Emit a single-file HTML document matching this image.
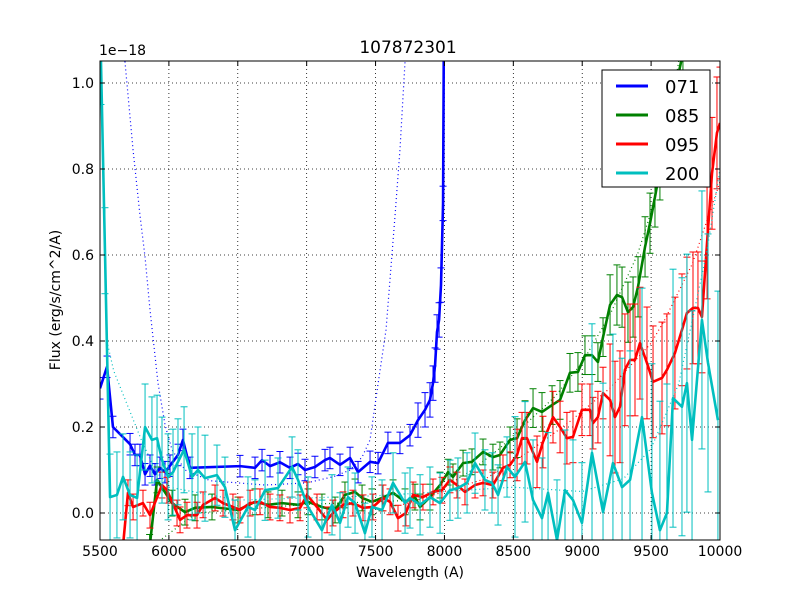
<!DOCTYPE html>
<html><head><meta charset="utf-8"><style>
html,body{margin:0;padding:0;background:#fff;overflow:hidden;width:800px;height:600px;}
svg{display:block;}
svg text{font-family:"DejaVu Sans","Liberation Sans",sans-serif;}
</style></head><body>
<svg id="chart" width="800" height="600" xmlns="http://www.w3.org/2000/svg">
<rect width="800" height="600" fill="#fff"/>
<defs><clipPath id="clip"><rect x="100" y="61" width="620" height="479"/></clipPath></defs>
<g id="grid"></g>
<g id="marks" clip-path="url(#clip)"></g>
<rect x="100" y="61" width="620" height="479" fill="none" stroke="#000" stroke-width="1"/>
<g id="ticks"></g>
<text x="408" y="53" font-size="17" text-anchor="middle">107872301</text>
<text x="99" y="55" font-size="14">1e−18</text>
<text x="410" y="577" font-size="14" text-anchor="middle">Wavelength (A)</text>
<text transform="translate(60,300) rotate(-90)" font-size="14" text-anchor="middle">Flux (erg/s/cm^2/A)</text>
<g>
<rect x="602" y="70" width="108" height="117" fill="#fff" stroke="#000" stroke-width="1"/>
<g><line x1="616" y1="86" x2="648" y2="86" stroke="#0000ff" stroke-width="3"/><text x="665" y="93" font-size="18">071</text></g>
<g><line x1="616" y1="115" x2="648" y2="115" stroke="#008000" stroke-width="3"/><text x="665" y="122" font-size="18">085</text></g>
<g><line x1="616" y1="144" x2="648" y2="144" stroke="#ff0000" stroke-width="3"/><text x="665" y="151" font-size="18">095</text></g>
<g><line x1="616" y1="173" x2="648" y2="173" stroke="#00bfbf" stroke-width="3"/><text x="665" y="180" font-size="18">200</text></g>
</g>
</svg>
<script>
const xTicks=[5500,6000,6500,7000,7500,8000,8500,9000,9500,10000];
const yTicks=[0.0,0.2,0.4,0.6,0.8,1.0];
const yTickLabels=["0.0","0.2","0.4","0.6","0.8","1.0"];
const blueData=[[5500,0.29],[5551,0.34],[5594,0.20],[5718,0.16],[5754,0.135],[5790,0.135],[5827,0.09],[5863,0.11],[5899,0.09],[5935,0.105],[5972,0.095],[6008,0.11],[6066,0.135],[6102,0.17],[6153,0.105],[6516,0.109],[6625,0.105],[6676,0.123],[6734,0.109],[6806,0.118],[6879,0.105],[6937,0.114],[6988,0.100],[7060,0.107],[7133,0.123],[7169,0.128],[7242,0.112],[7315,0.128],[7373,0.095],[7460,0.119],[7518,0.116],[7590,0.163],[7677,0.163],[7750,0.181],[7808,0.216],[7859,0.240],[7895,0.263],[7917,0.302],[7932,0.344],[7946,0.421],[7961,0.449],[7975,0.53],[7990,0.72],[7997,1.2]];
const greenData=[[5860,-0.08],[5914,0.077],[6023,0.023],[6117,0.002],[6190,0.012],[6313,0.014],[6502,0.007],[6625,0.026],[6719,0.019],[6821,0.023],[6937,0.019],[7010,0.026],[7111,0.014],[7206,0.007],[7278,0.042],[7351,0.049],[7402,0.035],[7474,0.026],[7547,0.035],[7627,0.047],[7714,0.026],[7786,0.037],[7823,0.014],[7895,0.037],[7968,0.065],[8026,0.095],[8062,0.084],[8135,0.116],[8200,0.119],[8280,0.142],[8352,0.130],[8403,0.135],[8476,0.170],[8527,0.174],[8585,0.216],[8643,0.244],[8708,0.235],[8781,0.251],[8839,0.263],[8911,0.326],[8969,0.328],[9020,0.367],[9071,0.367],[9114,0.351],[9151,0.409],[9202,0.484],[9252,0.507],[9289,0.502],[9332,0.467],[9369,0.479],[9405,0.526],[9456,0.619],[9492,0.674],[9528,0.735],[9564,0.798],[9615,0.884],[9659,0.960],[9731,1.07],[9800,1.2]];
const redData=[[5660,-0.1],[5703,0.047],[5740,0.014],[5812,0.023],[5863,-0.005],[5950,0.065],[5986,0.053],[6059,0.0],[6081,-0.016],[6131,-0.005],[6204,-0.005],[6248,0.019],[6335,0.035],[6393,0.023],[6465,0.014],[6516,0.007],[6589,0.023],[6661,0.026],[6734,0.014],[6806,0.012],[6879,0.007],[6952,0.012],[7002,0.042],[7075,0.014],[7148,-0.016],[7191,0.0],[7264,0.019],[7336,0.023],[7409,0.012],[7481,0.014],[7554,0.035],[7605,0.026],[7663,-0.012],[7720,0.0],[7772,0.042],[7844,0.037],[7917,0.049],[7982,0.053],[8040,0.077],[8091,0.065],[8149,0.049],[8222,0.065],[8280,0.07],[8352,0.065],[8425,0.105],[8476,0.112],[8527,0.135],[8563,0.174],[8599,0.174],[8672,0.119],[8715,0.165],[8788,0.223],[8839,0.2],[8889,0.174],[8933,0.177],[8998,0.240],[9056,0.240],[9078,0.209],[9114,0.223],[9151,0.279],[9202,0.263],[9238,0.223],[9274,0.247],[9310,0.333],[9347,0.356],[9383,0.356],[9419,0.395],[9470,0.349],[9514,0.305],[9579,0.314],[9615,0.333],[9673,0.372],[9724,0.426],[9760,0.465],[9804,0.477],[9840,0.477],[9869,0.456],[9906,0.628],[9942,0.79],[9978,0.884],[10000,0.907]];
const cyanData=[[5507,1.05],[5536,0.61],[5573,0.037],[5623,0.042],[5667,0.084],[5718,0.042],[5769,0.035],[5827,0.2],[5877,0.17],[5914,0.174],[5950,0.123],[5994,0.084],[6030,0.095],[6066,0.119],[6110,0.147],[6168,0.084],[6211,0.1],[6262,0.081],[6349,0.088],[6407,0.06],[6480,-0.04],[6574,0.014],[6625,0.007],[6698,0.053],[6792,0.058],[6894,0.107],[6937,0.077],[7010,0.014],[7111,-0.04],[7184,0.019],[7242,-0.023],[7300,0.037],[7351,0.023],[7423,-0.047],[7474,0.014],[7547,0.007],[7627,0.07],[7714,0.023],[7750,0.035],[7823,0.019],[7895,0.037],[7968,0.023],[8040,0.053],[8098,0.058],[8164,0.07],[8222,0.116],[8294,0.077],[8345,0.07],[8389,0.042],[8454,0.107],[8512,0.084],[8585,0.119],[8643,0.03],[8708,-0.012],[8752,0.047],[8817,-0.063],[8875,0.053],[8933,0.03],[8998,-0.023],[9071,0.14],[9151,0.002],[9223,0.116],[9289,0.06],[9347,0.077],[9434,0.223],[9506,0.047],[9564,-0.04],[9615,0.0],[9659,0.267],[9724,0.247],[9760,0.302],[9797,0.17],[9869,0.449],[9913,0.349],[9985,0.216]];
const blueErr=[[7800,0.025],[8000,0.04]];
const greenErr=[[8500,0.03],[9200,0.045],[10000,0.07]];
const redErr=[[8500,0.03],[9200,0.06],[10000,0.13]];
const cyanErr=[[6300,0.1],[8500,0.07],[9000,0.14],[10000,0.3]];
const blueModel=[[5681,1.05],[5740,0.844],[5790,0.693],[5827,0.595],[5863,0.472],[5921,0.302],[5972,0.205],[6023,0.147],[6117,0.1],[6300,0.075],[6700,0.065],[7000,0.07],[7200,0.085],[7315,0.10],[7402,0.13],[7460,0.17],[7518,0.30],[7576,0.426],[7641,0.69],[7677,0.844],[7714,1.05]];
const greenModel=[[5950,-0.06],[6200,0.0],[7000,0.02],[7800,0.03],[8000,0.06],[8200,0.1],[8400,0.15],[8600,0.21],[8800,0.27],[9000,0.35],[9200,0.46],[9400,0.6],[9500,0.7],[9600,0.85],[9700,1.05]];
const redModel=[[7700,0.02],[8000,0.05],[8300,0.08],[8600,0.14],[8900,0.21],[9200,0.29],[9400,0.36],[9500,0.395],[9600,0.45],[9800,0.58],[10000,0.77]];
const cyanModel=[[5550,0.4],[5600,0.33],[5700,0.25],[5800,0.17],[5900,0.1],[6000,0.06],[6500,0.03],[7500,0.04],[8500,0.06],[9000,0.05],[9300,0.08],[9500,0.15],[9700,0.3],[9900,0.6],[10000,0.8]];

const NS="http://www.w3.org/2000/svg";
const X=w=>100+(w-5500)*620/4500;
const Y=v=>513-v*430;
const YC=v=>Y(Math.max(-0.08,Math.min(1.08,v)));
function mk(tag,attrs,parent){const e=document.createElementNS(NS,tag);for(const k in attrs)e.setAttribute(k,attrs[k]);parent.appendChild(e);return e;}
const grid=document.getElementById('grid'),marks=document.getElementById('marks'),ticks=document.getElementById('ticks');
xTicks.forEach(t=>{
  const gl=mk('line',{x1:X(t),x2:X(t),y1:61,y2:540,stroke:'#000','stroke-dasharray':'1,3','stroke-width':0.8},grid);
  
  
  mk('line',{x1:X(t),x2:X(t),y1:540,y2:535,stroke:'#000'},ticks);
  mk('line',{x1:X(t),x2:X(t),y1:61,y2:66,stroke:'#000'},ticks);
  const tx=mk('text',{x:X(t),y:556,'font-size':14,'text-anchor':'middle'},ticks);
  tx.textContent=t;
  
  
});
yTicks.forEach((t,i)=>{
  const gl=mk('line',{x1:100,x2:720,y1:Y(t),y2:Y(t),stroke:'#000','stroke-dasharray':'1,3','stroke-width':0.8},grid);
  
  
  mk('line',{x1:100,x2:105,y1:Y(t),y2:Y(t),stroke:'#000'},ticks);
  mk('line',{x1:715,x2:720,y1:Y(t),y2:Y(t),stroke:'#000'},ticks);
  const tx=mk('text',{x:94,y:Y(t)+5,'font-size':14,'text-anchor':'end'},ticks);
  tx.textContent=yTickLabels[i];
  
  
});
function errAt(tab,w){for(const [lim,e] of tab){if(w<=lim)return e;}return tab[tab.length-1][1];}
function series(data,err,model,color,name){
  const m=mk('polyline',{points:model.map(p=>X(p[0])+','+Y(p[1])).join(' '),fill:'none',stroke:color,'stroke-width':1.2,'stroke-dasharray':'1,3'},marks);
  
  
  const g=mk('g',{stroke:color,'stroke-width':1},marks);
  
  
  data.forEach(p=>{const e=errAt(err,p[0]);const x=X(p[0]),y1=YC(p[1]-e),y2=YC(p[1]+e);
    mk('line',{x1:x,x2:x,y1:y1,y2:y2},g);
    mk('line',{x1:x-3.5,x2:x+3.5,y1:y1,y2:y1},g);
    mk('line',{x1:x-3.5,x2:x+3.5,y1:y2,y2:y2},g);});
  const l=mk('polyline',{points:data.map(p=>X(p[0])+','+Y(p[1])).join(' '),fill:'none',stroke:color,'stroke-width':2.6,'stroke-linejoin':'round'},marks);
  
  
}
series(blueData,blueErr,blueModel,'#0000ff','series-071');
series(greenData,greenErr,greenModel,'#008000','series-085');
series(redData,redErr,redModel,'#ff0000','series-095');
series(cyanData,cyanErr,cyanModel,'#00bfbf','series-200');
</script>
</body></html>
